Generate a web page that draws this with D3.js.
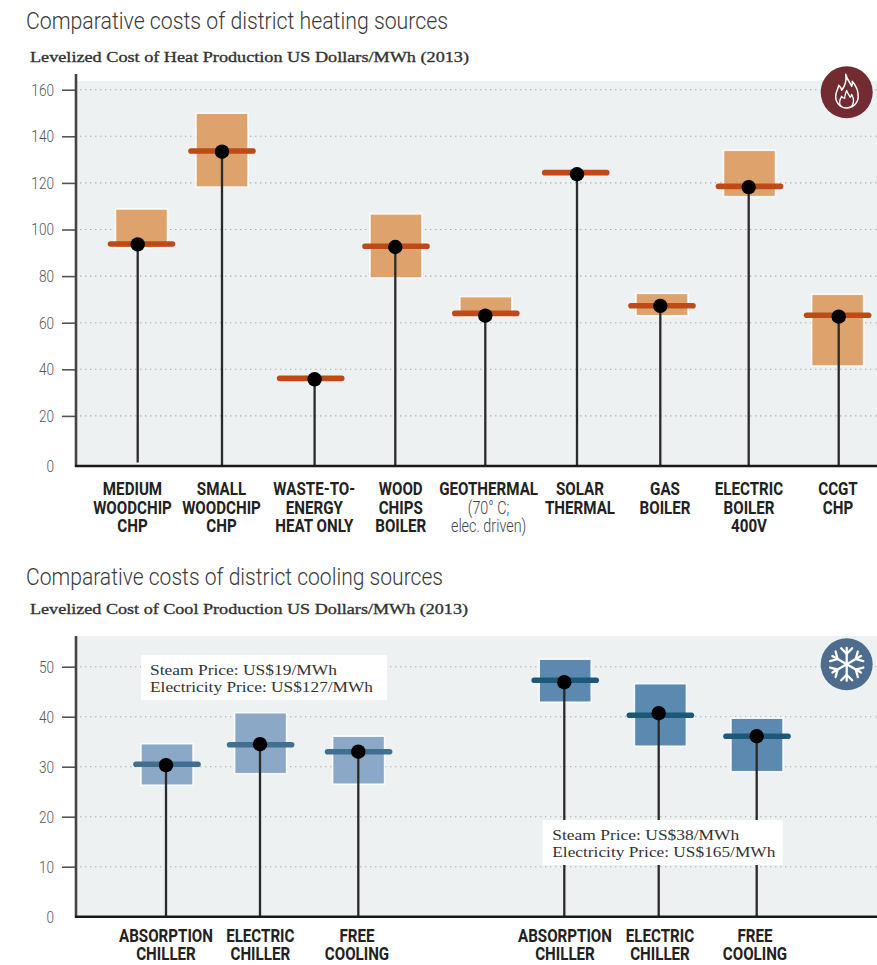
<!DOCTYPE html>
<html><head><meta charset="utf-8">
<script src="https://cdnjs.cloudflare.com/ajax/libs/d3/7.8.5/d3.min.js"></script>
<style>html,body{margin:0;padding:0;background:#fff}svg{display:block}</style>
</head><body><svg id="c" width="877" height="965"></svg>
<script>
// ---------- data ----------
const heatCategories = ["MEDIUM|WOODCHIP|CHP","SMALL|WOODCHIP|CHP","WASTE-TO-|ENERGY|HEAT ONLY","WOOD|CHIPS|BOILER","GEOTHERMAL|(70° C;|elec. driven)","SOLAR|THERMAL","GAS|BOILER","ELECTRIC|BOILER|400V","CCGT|CHP"];
const heatLow  = [92.2,118.2,null,79.2,62.6,null,63,114.1,41.4];
const heatHigh = [108.8,149.9,null,106.7,71.2,null,72.6,134,72.2];
const heatLine = [93.8,133.7,36.1,92.8,64,124.4,67.3,118.5,63.2];
const heatDot  = [93.6,133.4,35.7,92.5,63,123.7,67.2,118.2,62.6];
const heatTicks = [20,40,60,80,100,120,140,160];

const coolCategories = ["ABSORPTION|CHILLER","ELECTRIC|CHILLER","FREE|COOLING","ABSORPTION|CHILLER","ELECTRIC|CHILLER","FREE|COOLING"];
const coolLow  = [26.3,28.6,26.5,42.9,34.1,29];
const coolHigh = [34.6,40.8,36.1,51.5,46.6,39.7];
const coolLine = [30.5,34.4,33,47.3,40.3,36.1];
const coolDot  = [30.3,34.5,33,46.9,40.7,36.1];
const coolTicks = [10,20,30,40,50];

const noteSteam = ["Steam Price: US$19/MWh","Steam Price: US$38/MWh"];
const noteElec  = ["Electricity Price: US$127/MWh","Electricity Price: US$165/MWh"];

// ---------- layout ----------
const svg = d3.select("#c");
const W = 877;
const axisX = 76;
const sans = "Roboto, sans-serif";
const serif = "'Liberation Serif', serif";

function fitText(sel, len){ sel.attr("textLength", len).attr("lengthAdjust","spacingAndGlyphs"); }
function squeeze(sel, f){
  sel.each(function(){
    this.setAttribute("textLength", this.getComputedTextLength()*f);
    this.setAttribute("lengthAdjust","spacingAndGlyphs");
  });
}

function heading(title, sub, yT, yS, tLen, sLen){
  svg.append("text").text(title).attr("x",26).attr("y",yT)
    .attr("font-family",sans).attr("font-weight",300).attr("font-size",23).attr("fill","#3a3a3a").call(fitText,tLen);
  svg.append("text").text(sub).attr("x",30).attr("y",yS)
    .attr("font-family",serif).attr("font-size",15.5).attr("fill","#333")
    .attr("stroke","#333").attr("stroke-width",0.35).call(fitText,sLen);
}

function panel(o){
  const g = svg.append("g");
  const y = d3.scaleLinear().domain(o.domain).range(o.range);
  const idx = d3.range(o.cats.length);
  const xStem = d3.scaleOrdinal().domain(idx).range(o.stemX);
  const xBar  = d3.scaleOrdinal().domain(idx).range(o.barX);
  const xLab  = d3.scaleOrdinal().domain(idx).range(o.labX);
  // background
  g.append("rect").attr("x",axisX).attr("y",o.bgTop).attr("width",W-axisX).attr("height",o.base-o.bgTop).attr("fill","#eef1f2");
  // grid
  g.append("g").selectAll("line").data(o.ticks).join("line")
    .attr("x1",axisX+4).attr("x2",W).attr("y1",d=>y(d)).attr("y2",d=>y(d))
    .attr("stroke","#a9adaf").attr("stroke-width",1.1).attr("stroke-dasharray","1.4 3.6");
  // y axis
  const ax = g.append("g").attr("transform",`translate(${axisX},0)`)
    .call(d3.axisLeft(y).tickValues(o.ticks).tickSize(14).tickPadding(8));
  ax.select(".domain").remove();
  ax.selectAll("line").attr("stroke","#555").attr("stroke-width",1.6);
  ax.selectAll("text").attr("font-family",sans).attr("font-weight",300).attr("font-size",17).attr("fill","#555").call(squeeze,0.8);
  g.append("text").text("0").attr("x",axisX-22).attr("y",o.base).attr("dy","0.36em").attr("text-anchor","end")
    .attr("font-family",sans).attr("font-weight",300).attr("font-size",17).attr("fill","#555").call(squeeze,0.8);
  g.append("line").attr("x1",axisX).attr("x2",axisX).attr("y1",o.axisTop).attr("y2",o.base+1).attr("stroke","#444").attr("stroke-width",2.6);
  // range boxes
  g.append("g").selectAll("rect").data(idx.filter(i=>o.low[i]!==null)).join("rect")
    .attr("x",i=>xBar(i)-26).attr("width",52)
    .attr("y",i=>y(o.high[i])).attr("height",i=>y(o.low[i])-y(o.high[i]))
    .attr("fill",i=>o.barFill(i)).attr("stroke","#fff").attr("stroke-opacity",.85).attr("stroke-width",1.6);
  // stems
  g.append("g").selectAll("line").data(idx).join("line")
    .attr("x1",i=>xStem(i)).attr("x2",i=>xStem(i))
    .attr("y1",i=>y(o.dot[i])).attr("y2",i=>o.stemEnd(i,y))
    .attr("stroke","#2a2a2a").attr("stroke-width",2.3);
  // central bars
  g.append("g").selectAll("line").data(idx).join("line")
    .attr("x1",i=>xBar(i)-31).attr("x2",i=>xBar(i)+31)
    .attr("y1",i=>y(o.line[i])).attr("y2",i=>y(o.line[i]))
    .attr("stroke",i=>o.lineStroke(i)).attr("stroke-width",5.6).attr("stroke-linecap","round");
  // dots
  g.append("g").selectAll("circle").data(idx).join("circle")
    .attr("cx",i=>xStem(i)).attr("cy",i=>y(o.dot[i])).attr("r",7.2).attr("fill","#000");
  // baseline
  g.append("line").attr("x1",axisX-1).attr("x2",W).attr("y1",o.base).attr("y2",o.base).attr("stroke","#1a1a1a").attr("stroke-width",2.4);
  // category labels
  idx.forEach(i=>{
    o.cats[i].split("|").forEach((t,k)=>{
      const light = t.startsWith("(70")||t.startsWith("elec");
      g.append("text").text(t).attr("x",xLab(i)).attr("y",o.labY[k]).attr("text-anchor","middle")
        .attr("font-family",sans).attr("font-weight",light?300:700).attr("font-size",17.5)
        .attr("fill",light?"#444":"#222").call(squeeze,light?0.82:0.865);
    });
  });
  return {g,y};
}

function note(i, bx, by, bw, bh, tx, y1, y2, l1, l2){
  svg.append("rect").attr("x",bx).attr("y",by).attr("width",bw).attr("height",bh).attr("fill","#fff");
  svg.append("text").text(noteSteam[i]).attr("x",tx).attr("y",y1).attr("font-family",serif).attr("font-size",15.5).attr("fill","#333").call(fitText,l1);
  svg.append("text").text(noteElec[i]).attr("x",tx).attr("y",y2).attr("font-family",serif).attr("font-size",15.5).attr("fill","#333").call(fitText,l2);
}

// ---------- heating ----------
heading("Comparative costs of district heating sources","Levelized Cost of Heat Production US Dollars/MWh (2013)",29,62,422,439);
panel({
  cats:heatCategories, low:heatLow, high:heatHigh, line:heatLine, dot:heatDot, ticks:heatTicks,
  domain:[0,160], range:[462.5,89.7], base:466, bgTop:81, axisTop:74,
  stemX:[137.7,222,314.6,395.3,485.3,577,660.3,748.7,838.7],
  barX:[141.5,222,310.7,396,485.8,575.7,662,749.5,837.6],
  labX:[132.5,221.5,314.3,400.7,488.6,580,665,749,838],
  labY:[495,514,531.5],
  barFill:()=>"#dea36c", lineStroke:()=>"#bd4a17",
  stemEnd:(i,y)=> i===0 ? y(0) : 466
});

// ---------- cooling ----------
heading("Comparative costs of district cooling sources","Levelized Cost of Cool Production US Dollars/MWh (2013)",585,614,417,438);
panel({
  cats:coolCategories, low:coolLow, high:coolHigh, line:coolLine, dot:coolDot, ticks:coolTicks,
  domain:[0,50], range:[916.7,666.7], base:916.7, bgTop:636, axisTop:636,
  stemX:[166,260,358.3,564.3,658.7,756.7],
  barX:[167,260.6,358.6,565.2,660.4,757],
  labX:[166,260.3,357,565,660,755],
  labY:[941.5,960],
  barFill:i=> i<3 ? "#8ba9c6" : "#5b89b0", lineStroke:i=> i<3 ? "#3f6f91" : "#1c5877",
  stemEnd:()=>916.7
});
note(0,141,655,246,45,150,675,692,187,223);
note(1,542.7,820,240,45,552.3,840,857,187,223);

// ---------- icons ----------
const flame = svg.append("g").attr("transform","translate(846.7,92.3)");
flame.append("circle").attr("r",26).attr("fill","#722b30");
flame.append("path").attr("fill","none").attr("stroke","#fff").attr("stroke-width",1.5).attr("stroke-linejoin","round")
  .attr("d","M-1,-18C1,-11 4,-9 5,-6C6,-8 6,-9 5.5,-11C10,-6 11.5,-1 11.5,4C11.5,11 6,15.5 0,15.7C-6,15.7 -11,11 -11,4C-11,-1 -8.5,-3 -8,-7C-6,-5.5 -5,-4 -5,-2C-2,-6 0,-12 -1,-18Z");
flame.append("path").attr("fill","none").attr("stroke","#fff").attr("stroke-width",1.3).attr("stroke-linejoin","round")
  .attr("d","M-6,14C-8,10 -7,7 -5,4C-4,6 -3,6 -2,6C-2,3 -1,1 0,-2C1,2 3,3 3.5,5C4,4.5 4.5,4 5,2C7,6 8,10 5,14");
const snow = svg.append("g").attr("transform","translate(846.7,664.3)");
snow.append("circle").attr("r",26).attr("fill","#4e6d8e");
d3.range(6).forEach(k=>{
  const a = snow.append("g").attr("transform",`rotate(${k*60})`)
    .attr("stroke","#fff").attr("stroke-width",2.3).attr("fill","none").attr("stroke-linecap","round");
  a.append("line").attr("x1",0).attr("y1",0).attr("x2",0).attr("y2",-16.5);
  a.append("path").attr("d","M-5.5,-16L0,-10.5L5.5,-16");
});
</script></body></html>
